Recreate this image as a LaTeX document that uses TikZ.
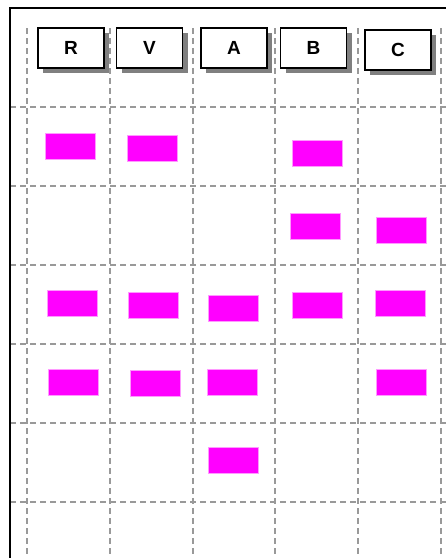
\documentclass[tikz,border=0pt]{standalone}
\usepackage{fontspec}
\setsansfont{Liberation Sans}
\usetikzlibrary{shadows}
\definecolor{slotpink}{RGB}{255,0,255}

\begin{document}
\begin{tikzpicture}[x=1pt, y=-1pt,
  every node/.style={font=\sffamily\bfseries\fontsize{19}{19}\selectfont},
  gridline/.style={gray!80, line width=1.4pt, dash pattern=on 6pt off 4pt},
  hdr/.style={draw, fill=white, line width=1.5pt, minimum width=66pt, minimum height=40pt, inner sep=0pt,
    drop shadow={shadow xshift=5pt, shadow yshift=-5pt, fill=gray, opacity=1}},
  slot/.style={fill=slotpink, draw=slotpink!40, line width=0.5pt, minimum width=50pt, minimum height=26pt, inner sep=0pt}]
  \useasboundingbox (0,0) rectangle (446,558);

  % grid
  \foreach \x in {27,110,193,275,358,441}
    \draw[gridline] (\x,28) -- (\x,558);
  \foreach \y in {107,186,265,344,423,502}
    \draw[gridline] (10,\y) -- (446,\y);

  % frame
  \draw[line width=1.8pt] (446,8) -- (10,8) -- (10,558);

  % column heads
  \node[hdr] (hR) at (71,48) {R};
  \node[hdr] (hV) at (149.5,48) {V};
  \node[hdr] (hA) at (234,48) {A};
  \node[hdr] (hB) at (313.5,48) {B};
  \node[hdr] (hC) at (398,50) {C};

  % row 1
  \node[slot] (r1R) at (70,146) {};
  \node[slot] (r1V) at (152,148) {};
  \node[slot] (r1B) at (317,153) {};
  % row 2
  \node[slot] (r2B) at (315,226) {};
  \node[slot] (r2C) at (401,230) {};
  % row 3
  \node[slot] (r3R) at (72,303) {};
  \node[slot] (r3V) at (153,305) {};
  \node[slot] (r3A) at (233,308) {};
  \node[slot] (r3B) at (317,305) {};
  \node[slot] (r3C) at (400,303) {};
  % row 4
  \node[slot] (r4R) at (73,382) {};
  \node[slot] (r4V) at (155,383) {};
  \node[slot] (r4A) at (232,382) {};
  \node[slot] (r4C) at (401,382) {};
  % row 5
  \node[slot] (r5A) at (233,460) {};
\end{tikzpicture}
\end{document}
